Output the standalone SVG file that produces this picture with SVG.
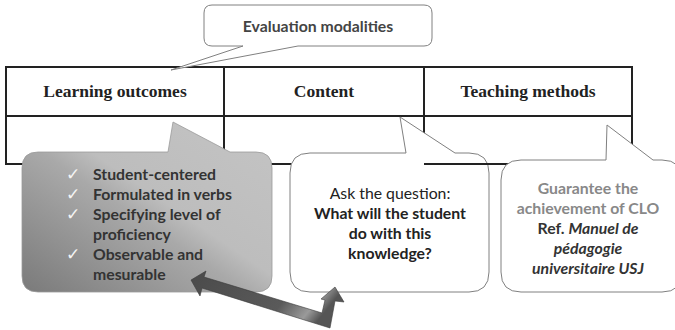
<svg xmlns="http://www.w3.org/2000/svg" width="675" height="330" viewBox="0 0 675 330">
  <defs>
    <linearGradient id="greyFill" x1="0" y1="1" x2="1" y2="0">
      <stop offset="0" stop-color="#7a7a7a"/>
      <stop offset="0.45" stop-color="#a9a9a9"/>
      <stop offset="0.55" stop-color="#bdbdbd"/>
      <stop offset="1" stop-color="#c4c4c4"/>
    </linearGradient>
    <linearGradient id="arrowFill" x1="0" y1="0" x2="1" y2="0.3">
      <stop offset="0" stop-color="#4a4a4a"/>
      <stop offset="0.7" stop-color="#5a5a5a"/>
      <stop offset="0.9" stop-color="#9a9a9a"/>
      <stop offset="1" stop-color="#555"/>
    </linearGradient>
    <style>
      .cell { fill: none; stroke: #222; stroke-width: 2; }
      .head { font-family: "Liberation Serif", "Times New Roman", serif; font-weight: bold; font-size: 17.5px; fill: #222; text-anchor: middle; }
      .callout { fill: #fff; stroke: #808080; stroke-width: 1; }
      .sans { font-family: Lato, "Open Sans", "Liberation Sans", sans-serif; font-size: 15.8px; }
      .b { font-weight: bold; }
      .mid { text-anchor: middle; }
      .item { fill: #333; font-weight: bold; }
      .tick { fill: #f4f4f4; font-family: "DejaVu Sans", sans-serif; font-size: 17px; }
    </style>
  </defs>

  <!-- table -->
  <g id="table">
    <rect class="cell" x="6" y="67" width="626" height="97"/>
    <line class="cell" x1="6" y1="116" x2="632" y2="116"/>
    <line class="cell" x1="224" y1="67" x2="224" y2="164"/>
    <line class="cell" x1="424" y1="67" x2="424" y2="164"/>
    <text class="head" x="115" y="97">Learning outcomes</text>
    <text class="head" x="324" y="97">Content</text>
    <text class="head" x="528" y="97">Teaching methods</text>
  </g>

  <!-- evaluation callout -->
  <g id="evaluation">
    <path class="callout" d="M 212,5 L 424,5 Q 432,5 432,13 L 432,38 Q 432,46 424,46 L 298,46 L 171,70 L 243,46 L 212,46 Q 204,46 204,38 L 204,13 Q 204,5 212,5 Z"/>
    <text class="sans b mid" x="318" y="32" fill="#444">Evaluation modalities</text>
  </g>

  <!-- learning outcomes callout -->
  <g id="outcomes">
    <path d="M 38,152 L 168,152 L 173,122 L 230,152 L 256,152 Q 272,152 272,168 L 272,276 Q 272,292 256,292 L 38,292 Q 22,292 22,276 L 22,168 Q 22,152 38,152 Z" fill="url(#greyFill)" stroke="#9a9a9a" stroke-width="0.8"/>
    <g class="sans">
      <text class="tick" x="66" y="180">✓</text>
      <text class="tick" x="66" y="200">✓</text>
      <text class="tick" x="66" y="220">✓</text>
      <text class="tick" x="66" y="260">✓</text>
      <text class="item" x="93" y="180">Student-centered</text>
      <text class="item" x="93" y="200">Formulated in verbs</text>
      <text class="item" x="93" y="220">Specifying level of</text>
      <text class="item" x="93" y="240">proficiency</text>
      <text class="item" x="93" y="260">Observable and</text>
      <text class="item" x="93" y="280">mesurable</text>
    </g>
  </g>

  <!-- content callout -->
  <g id="content">
    <path class="callout" d="M 310,153 L 406,153 L 400,117 L 455,153 L 469,153 Q 489,153 489,173 L 489,272 Q 489,292 469,292 L 310,292 Q 290,292 290,272 L 290,173 Q 290,153 310,153 Z"/>
    <g class="sans mid" fill="#222">
      <text x="390" y="199">Ask the question:</text>
      <text class="b" x="390" y="219">What will the student</text>
      <text class="b" x="390" y="239">do with this</text>
      <text class="b" x="390" y="259">knowledge?</text>
    </g>
  </g>

  <!-- table bottom edge under the third column stays on top -->
  <line class="cell" x1="424" y1="164" x2="632" y2="164"/>

  <!-- teaching methods callout -->
  <g id="teaching">
    <path class="callout" d="M 521,160 L 606,160 L 607,125 L 653,160 L 662,160 Q 682,160 682,180 L 682,272 Q 682,292 662,292 L 521,292 Q 501,292 501,272 L 501,180 Q 501,160 521,160 Z"/>
    <g class="sans b mid">
      <text x="588" y="194" fill="#888">Guarantee the</text>
      <text x="588" y="214" fill="#888">achievement of CLO</text>
      <text x="588" y="234" fill="#333">Ref. <tspan font-style="italic">Manuel de</tspan></text>
      <text x="588" y="254" fill="#333" font-style="italic">pédagogie</text>
      <text x="588" y="274" fill="#333" font-style="italic">universitaire USJ</text>
    </g>
  </g>

  <!-- double-headed elbow arrow -->
  <g id="connectors">
    <path d="M 191,280 L 206,271 L 204,277 L 322,313 L 325,300 L 321,299 L 335,287 L 344,302 L 335,301 L 330,328 L 202,288 L 200,296 Z" fill="url(#arrowFill)" stroke="#3a3a3a" stroke-width="0.6"/>
  </g>
</svg>
